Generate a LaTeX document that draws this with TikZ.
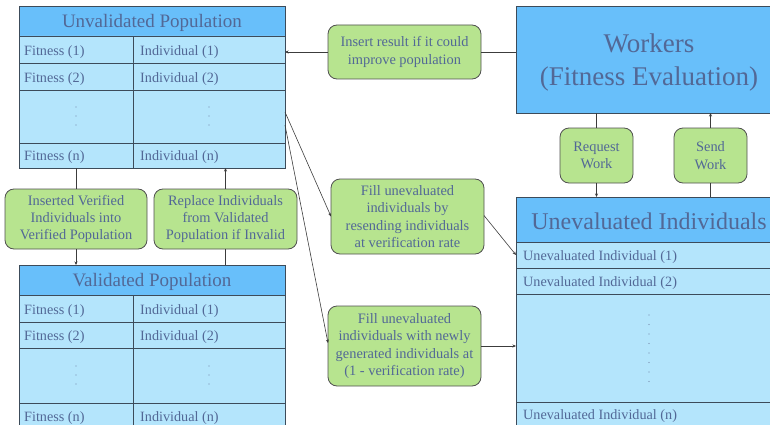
\documentclass[tikz,border=0pt]{standalone}
\usepackage{fontspec}
\setmainfont{Liberation Serif}
\usetikzlibrary{arrows.meta,calc}
\definecolor{hdr}{RGB}{104,191,250}
\definecolor{rowc}{RGB}{180,229,252}
\definecolor{txt}{RGB}{82,104,150}
\definecolor{grn}{RGB}{183,228,143}
\definecolor{tedge}{RGB}{60,75,90}
\definecolor{wire}{RGB}{60,60,60}
\tikzset{
  tbl/.style={draw=tedge, line width=0.8pt},
  frame/.style={draw=tedge, line width=0.8pt, inner sep=0pt, outer sep=0pt},
  celltxt/.style={text=txt, font=\fontsize{14.2}{17}\selectfont, anchor=west, inner sep=2pt},
  ttl/.style={text=txt, font=\fontsize{19}{22}\selectfont},
  gbox/.style={draw=wire!90, line width=0.8pt, fill=grn, rounded corners=9pt, text=txt,
     font=\fontsize{14.4}{17.3}\selectfont, align=center, inner sep=0pt, outer sep=0pt},
  wirec/.style={draw=wire, line width=0.6pt},
  arr/.style={wirec, -{Stealth[length=3.5pt,width=3pt]}},
  dot/.style={fill=txt!80}
}
\begin{document}
\begin{tikzpicture}[x=1pt,y=-1pt]
\useasboundingbox (0,0) rectangle (770,425);

% ---------------- Unvalidated Population ----------------
\draw[tbl, fill=hdr] (19,6) rectangle (285,36);
\draw[tbl, fill=rowc] (19,36) rectangle (133,63) (133,36) rectangle (285,63);
\draw[tbl, fill=rowc] (19,63) rectangle (133,90) (133,63) rectangle (285,90);
\draw[tbl, fill=rowc] (19,90) rectangle (133,143) (133,90) rectangle (285,143);
\draw[tbl, fill=rowc] (19,143) rectangle (133,168) (133,143) rectangle (285,168);
\node[frame, minimum width=266pt, minimum height=162pt] (unval) at (152,87) {};
\node[ttl] (unvalT) at (152,23) {Unvalidated Population};
\node[celltxt] (uf1) at (22,52) {Fitness (1)};
\node[celltxt] (ui1) at (138,52) {Individual (1)};
\node[celltxt] (uf2) at (22,79) {Fitness (2)};
\node[celltxt] (ui2) at (138,79) {Individual (2)};
\node[celltxt] (ufn) at (22,157.5) {Fitness (n)};
\node[celltxt] (uin) at (138,157.5) {Individual (n)};
\foreach \yy in {107,116,125} {\fill[dot] (76,\yy) circle (0.7); \fill[dot] (209,\yy) circle (0.7);}

% ---------------- Validated Population ----------------
\draw[tbl, fill=hdr] (19,265) rectangle (285,295);
\draw[tbl, fill=rowc] (19,295) rectangle (133,322) (133,295) rectangle (285,322);
\draw[tbl, fill=rowc] (19,322) rectangle (133,348) (133,322) rectangle (285,348);
\draw[tbl, fill=rowc] (19,348) rectangle (133,403) (133,348) rectangle (285,403);
\draw[tbl, fill=rowc] (19,403) rectangle (133,432) (133,403) rectangle (285,432);
\node[frame, minimum width=266pt, minimum height=167pt] (val) at (152,348.5) {};
\node[ttl] (valT) at (152,282) {Validated Population};
\node[celltxt] (vf1) at (22,311) {Fitness (1)};
\node[celltxt] (vi1) at (138,311) {Individual (1)};
\node[celltxt] (vf2) at (22,337.5) {Fitness (2)};
\node[celltxt] (vi2) at (138,337.5) {Individual (2)};
\node[celltxt] (vfn) at (22,418) {Fitness (n)};
\node[celltxt] (vin) at (138,418) {Individual (n)};
\foreach \yy in {366,375,384} {\fill[dot] (76,\yy) circle (0.7); \fill[dot] (209,\yy) circle (0.7);}

% ---------------- Workers ----------------
\node[frame, fill=hdr, minimum width=266pt, minimum height=107pt] (workers) at (649,59.5) {};
\node[text=txt, align=center, font=\fontsize{27}{33}\selectfont] (workersT) at (649,63) {Workers\\(Fitness Evaluation)};

% ---------------- Unevaluated Individuals ----------------
\draw[tbl, fill=hdr] (516,197) rectangle (782,242);
\draw[tbl, fill=rowc] (516,242) rectangle (782,268);
\draw[tbl, fill=rowc] (516,268) rectangle (782,294);
\draw[tbl, fill=rowc] (516,294) rectangle (782,402);
\draw[tbl, fill=rowc] (516,402) rectangle (782,432);
\node[frame, minimum width=266pt, minimum height=235pt] (unev) at (649,314.5) {};
\node[text=txt, font=\fontsize{24}{28}\selectfont] (unevT) at (649,221) {Unevaluated Individuals};
\node[celltxt] (ue1) at (521,257.5) {Unevaluated Individual (1)};
\node[celltxt] (ue2) at (521,283.5) {Unevaluated Individual (2)};
\node[celltxt] (uen) at (521,416.5) {Unevaluated Individual (n)};
\foreach \yy in {315,324.5,334,343.5,353,362.5,372,381.5} {\fill[dot] (649,\yy) circle (0.7);}
\coordinate (ue1w) at (516,255);

% ---------------- Green process boxes ----------------
\node[gbox, minimum width=153pt, minimum height=54pt] (ins) at (404.5,52) {Insert result if it could\\improve population};
\node[gbox, minimum width=153pt, minimum height=75pt] (resend) at (407.5,216.5) {Fill unevaluated\\individuals by\\resending individuals\\at verification rate};
\node[gbox, minimum width=153pt, minimum height=80pt] (newly) at (404.5,346) {Fill unevaluated\\individuals with newly\\generated individuals at\\(1 - verification rate)};
\node[gbox, minimum width=142pt, minimum height=60pt] (insv) at (76,219) {Inserted Verified\\Individuals into\\Verified Population};
\node[gbox, minimum width=143pt, minimum height=60pt] (repl) at (225.5,219) {Replace Individuals\\from Validated\\Population if Invalid};
\node[gbox, minimum width=73pt, minimum height=55pt] (req) at (596.5,155.5) {Request\\Work};
\node[gbox, minimum width=73pt, minimum height=55pt] (send) at (710.5,155.5) {Send\\Work};

% ---------------- Connectors ----------------
\draw[wirec] (ins.east) -- (ins.east -| workers.west);
\draw[arr] (ins.west) -- (ins.west -| unval.east);
\draw[arr] ([yshift=-25pt]unval.east) -- (resend.west);
\draw[arr] ([yshift=-38pt]unval.east) -- ([yshift=3pt]newly.west);
\draw[arr] ([yshift=1pt]resend.east) -- (ue1w);
\draw[arr] (newly.east) -- (newly.east -| unev.west);
\draw[wirec] (req.north) -- (req.north |- workers.south);
\draw[arr] (req.south) -- (req.south |- unev.north);
\draw[wirec] (send.south) -- (send.south |- unev.north);
\draw[arr] (send.north) -- (send.north |- workers.south);
\draw[wirec] (insv.north) -- (insv.north |- unval.south);
\draw[arr] (insv.south) -- (insv.south |- val.north);
\draw[wirec] (repl.south) -- (repl.south |- val.north);
\draw[arr] (repl.north) -- (repl.north |- unval.south);
\end{tikzpicture}
\end{document}
